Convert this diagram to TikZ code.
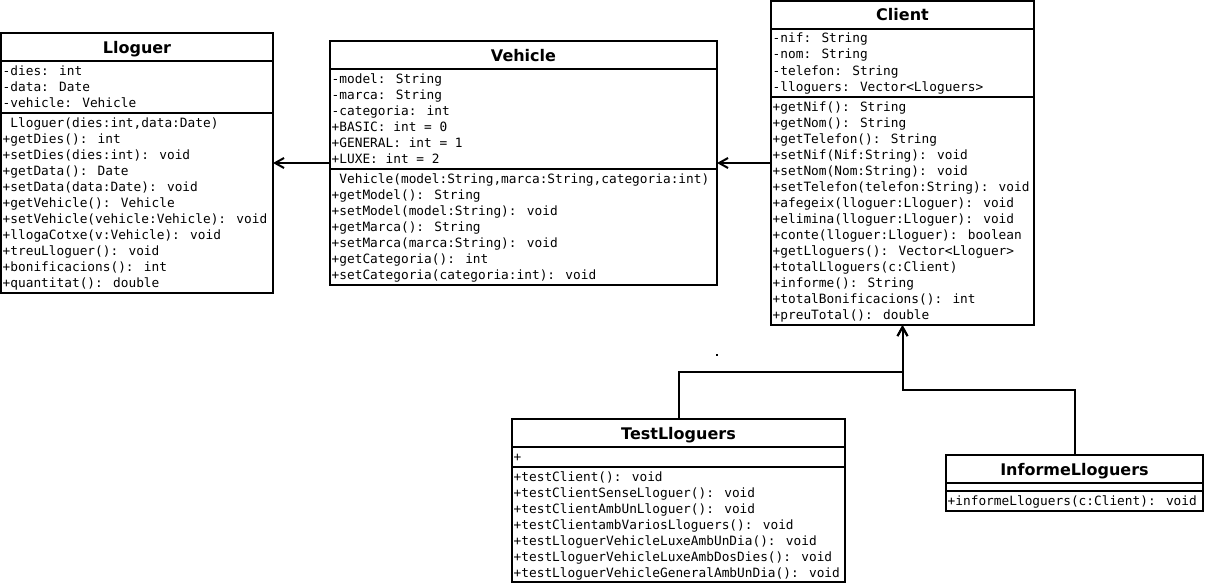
\documentclass[tikz,border=0pt]{standalone}
\usepackage{fontspec}
\setmainfont{DejaVu Sans}
\newfontfamily\monof{DejaVu Sans Mono}
\usetikzlibrary{arrows.meta}
\tikzset{
  umlbox/.style={draw, line width=2pt, inner sep=0pt, outer sep=0pt, fill=white},
  sepline/.style={line width=2pt},
  umltitle/.style={anchor=base, inner sep=0pt, font=\bfseries\fontsize{16}{18}\selectfont},
  mem/.style={anchor=base west, inner sep=0pt, font=\monof\fontsize{12.8}{16}\selectfont},
  conn/.style={line width=2pt, -{Straight Barb[length=9pt,width=10pt,line width=2pt]}},
}
\newcommand\umlclass[9]{%
  \node[umlbox, anchor=north west, minimum width={(#3-#2)*1pt}, minimum height={(#6-#4)*1pt}] (#1) at (#2,#4) {};
  \node[umltitle] at ({(#2+#3)/2},{#4+20}) {#7};
  \draw[sepline] (#2,{#4+28}) -- (#3,{#4+28});
  \draw[sepline] (#2,#5) -- (#3,#5);
  \foreach \mline [count=\mcnt from 0] in {#8}
    \node[mem] at ({#2+1.5},{#4+42+16*\mcnt}) {\mline};
  \foreach \mline [count=\mcnt from 0] in {#9}
    \node[mem] at ({#2+1.5},{#5+14+16*\mcnt}) {\mline};
}
\begin{document}
\begin{tikzpicture}[x=1pt,y=-1pt]
\useasboundingbox (0,0) rectangle (1206,586);
\fill[white] (0,0) rectangle (1206,586);

\umlclass{lloguer}{1}{273}{33}{113}{293}{Lloguer}%
 {-dies: int,-data: Date,-vehicle: Vehicle}%
 {{\ Lloguer(dies:int,data:Date)},+getDies(): int,+setDies(dies:int): void,+getData(): Date,+setData(data:Date): void,+getVehicle(): Vehicle,+setVehicle(vehicle:Vehicle): void,+llogaCotxe(v:Vehicle): void,+treuLloguer(): void,+bonificacions(): int,+quantitat(): double}

\umlclass{vehicle}{330}{717}{41}{169}{285}{Vehicle}%
 {-model: String,-marca: String,-categoria: int,+BASIC: int = 0,+GENERAL: int = 1,+LUXE: int = 2}%
 {{\ Vehicle(model:String,marca:String,categoria:int)},+getModel(): String,+setModel(model:String): void,+getMarca(): String,+setMarca(marca:String): void,+getCategoria(): int,+setCategoria(categoria:int): void}

\umlclass{client}{771}{1034}{1}{97}{325}{Client}%
 {-nif: String,-nom: String,-telefon: String,-lloguers: Vector<Lloguers>}%
 {+getNif(): String,+getNom(): String,+getTelefon(): String,+setNif(Nif:String): void,+setNom(Nom:String): void,+setTelefon(telefon:String): void,+afegeix(lloguer:Lloguer): void,+elimina(lloguer:Lloguer): void,+conte(lloguer:Lloguer): boolean,+getLloguers(): Vector<Lloguer>,+totalLloguers(c:Client),+informe(): String,+totalBonificacions(): int,+preuTotal(): double}

\umlclass{test}{512}{845}{419}{467}{582}{TestLloguers}%
 {+}%
 {+testClient(): void,+testClientSenseLloguer(): void,+testClientAmbUnLloguer(): void,+testClientambVariosLloguers(): void,+testLloguerVehicleLuxeAmbUnDia(): void,+testLloguerVehicleLuxeAmbDosDies(): void,+testLloguerVehicleGeneralAmbUnDia(): void}

\umlclass{informe}{946}{1203}{455}{491}{511}{InformeLloguers}%
 {}%
 {+informeLloguers(c:Client): void}

\coordinate (j1) at (902.5,372);
\coordinate (j2) at (902.5,390);
\draw[conn] (vehicle.west) -- (lloguer.east);
\draw[conn] (client.west) -- (vehicle.east);
\draw[conn] (test.north) |- (j1) -- (client.south);
\draw[conn] (informe.north) |- (j2) -- (client.south);
\fill (716,354) rectangle (718,356);
\end{tikzpicture}
\end{document}
